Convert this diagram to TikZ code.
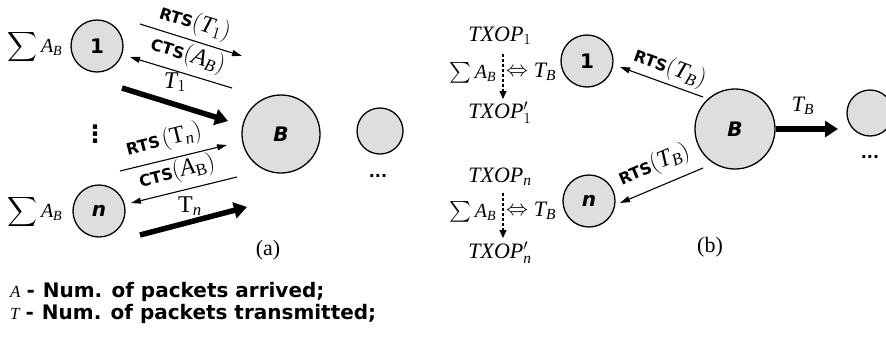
\RequirePackage{fix-cm}
\documentclass[tikz,border=0pt]{standalone}
\usepackage{exscale}
\usepackage{fontspec}
\setmainfont{Liberation Serif}
\edef\mysetmath{\noexpand\DeclareSymbolFont{operators}{TU}{\rmdefault}{m}{n}\noexpand\DeclareSymbolFont{letters}{TU}{\rmdefault}{m}{it}}
\mysetmath
\usetikzlibrary{arrows.meta}
\newfontfamily\vfont{DejaVu Sans}
\definecolor{nodefill}{HTML}{DEDEDE}
\newcommand\rtsfont{\vfont\bfseries\fontsize{16}{16}\selectfont}
\newcommand\nfont{\vfont\bfseries\fontsize{20}{20}\selectfont}
\newcommand\mfont{\fontsize{24}{24}\selectfont}
\newcommand\sfont{\fontsize{20}{20}\selectfont}
\newcommand\lgdfont{\vfont\bfseries\fontsize{20}{20}\selectfont}
\begin{document}
\begin{tikzpicture}[x=1pt,y=-1pt,
  font=\fontsize{22}{22}\selectfont,
  circ/.style={circle, draw, line width=1.3pt, fill=nodefill, inner sep=0pt, minimum size=#1},
  sarrow/.style={line width=1.1pt, -{Triangle[length=10pt,width=6pt]}},
  barrow/.style={line width=5.5pt, -{Triangle[length=13pt,width=16pt]}},
  darrow/.style={line width=1.1pt, dashed, dash pattern=on 3pt off 2pt, -{Triangle[length=8pt,width=7pt]}},
  lbl/.style={inner sep=0pt}
]
\useasboundingbox (0,0) rectangle (886,338);
% ---------- (a) ----------
\node[circ=52pt] (a1) at (97,46) {\nfont 1};
\node[circ=52pt] (an) at (99,211) {\nfont\itshape n};
\node[circ=78pt] (aB) at (281,134) {\nfont\itshape B};
\node[circ=46pt] (aX) at (380,131) {};
\node[lbl] (adots) at (378,176) {\rtsfont ...};
\node[lbl] (aS1) at (35,47) {\sfont$\displaystyle\sum A_B$};
\node[lbl] (aSn) at (35,212) {\sfont$\displaystyle\sum A_B$};
\node[lbl] (avd) at (95,134) {\vfont\bfseries\fontsize{24}{24}\selectfont ⋮};
% upper arrows
\coordinate (r1s) at (140,24); \coordinate (r1e) at (242,56);
\draw[sarrow] (r1s) -- (r1e);
\node[lbl,rotate=-17] (r1l) at (195,23) {{\rtsfont RTS}{\mfont$(T_1)$}};
\coordinate (c1s) at (232,88); \coordinate (c1e) at (130,57);
\draw[sarrow] (c1s) -- (c1e);
\node[lbl,rotate=-17] (c1l) at (188,55) {{\rtsfont CTS}{\mfont$(A_B)$}};
\coordinate (t1s) at (122,88); \coordinate (t1e) at (228,121);
\draw[barrow] (t1s) -- (t1e);
\node[lbl] (t1l) at (175,82) {\mfont$T_1$};
% lower arrows
\coordinate (rns) at (120,171); \coordinate (rne) at (227,145);
\draw[sarrow] (rns) -- (rne);
\node[lbl,rotate=14] (rnl) at (164,140) {{\rtsfont RTS\,}{\mfont$(\mathrm{T}_n)$}};
\coordinate (cns) at (237,177); \coordinate (cne) at (131,203);
\draw[sarrow] (cns) -- (cne);
\node[lbl,rotate=14] (cnl) at (177,172) {{\rtsfont CTS}{\mfont$(A_{\mathrm{B}})$}};
\coordinate (tns) at (140,235); \coordinate (tne) at (247,207);
\draw[barrow] (tns) -- (tne);
\node[lbl] (tnl) at (190,206) {\mfont$\mathrm{T}_n$};
\node[lbl] (acap) at (268,250) {(a)};
% ---------- (b) ----------
\node[circ=52pt] (b1) at (587,61) {\nfont 1};
\node[circ=52pt] (bn) at (589,201) {\nfont\itshape n};
\node[circ=80pt] (bB) at (735,129) {\nfont\itshape B};
\node[circ=46pt] (bX) at (870,113) {};
\node[lbl] (bdots) at (870,157) {\rtsfont ...};
\coordinate (tbe) at (838,129);
\draw[barrow] (bB) -- (tbe);
\node[lbl] (tbl) at (803,106) {$T_B$};
\coordinate (rbus) at (703,97); \coordinate (rbue) at (620,67);
\draw[sarrow] (rbus) -- (rbue);
\node[lbl,rotate=-20] (rbul) at (670,68) {{\rtsfont RTS}{\mfont$(T_B)$}};
\coordinate (rbls) at (703,168); \coordinate (rble) at (620,203);
\draw[sarrow] (rbls) -- (rble);
\node[lbl,rotate=23] (rbll) at (654,165) {{\rtsfont RTS}{\mfont$(T_B)$}};
% group 1
\node[lbl] (g1t) at (500,36) {$TXOP_1$};
\node[lbl] (g1s) at (473,73) {\sfont$\sum A_B$};
\node[lbl] (g1e) at (517,72) {$\Leftrightarrow$};
\node[lbl] (g1b) at (545,72) {$T_B$};
\coordinate (d1s) at (503,54); \coordinate (d1e) at (503,99);
\draw[darrow] (d1s) -- (d1e);
\node[lbl] (g1p) at (500,113) {$TXOP_1'$};
% group n
\node[lbl] (gnt) at (500,177) {$TXOP_n$};
\node[lbl] (gns) at (473,212) {\sfont$\sum A_B$};
\node[lbl] (gne) at (517,211) {$\Leftrightarrow$};
\node[lbl] (gnb) at (545,211) {$T_B$};
\coordinate (dns) at (503,193); \coordinate (dne) at (503,238);
\draw[darrow] (dns) -- (dne);
\node[lbl] (gnp) at (500,253) {$TXOP_n'$};
\node[lbl] (bcap) at (710,247) {(b)};
% legend
\node[lbl,anchor=west] (leg1) at (10,292) {{\fontsize{17}{17}\selectfont$A$}\hspace{6pt}{\lgdfont -\hspace{8pt}Num. of packets arrived;}};
\node[lbl,anchor=west] (leg2) at (10,314) {{\fontsize{17}{17}\selectfont$T$}\hspace{6pt}{\lgdfont -\hspace{8pt}Num. of packets transmitted;}};
\end{tikzpicture}
\end{document}
